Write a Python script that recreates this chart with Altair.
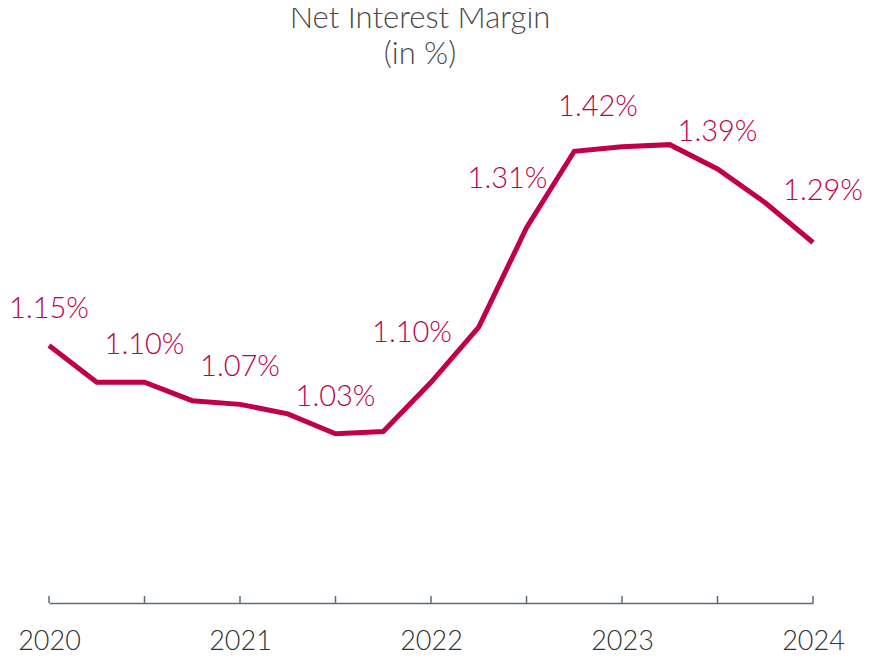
import altair as alt
import pandas as pd

# ---- data ----
periods = [2020.0, 2020.25, 2020.5, 2020.75, 2021.0, 2021.25, 2021.5, 2021.75,
           2022.0, 2022.25, 2022.5, 2022.75, 2023.0, 2023.25, 2023.5, 2023.75, 2024.0]
nim = [1.15, 1.10, 1.10, 1.075, 1.07, 1.057, 1.03, 1.033,
       1.10, 1.175, 1.31, 1.414, 1.42, 1.423, 1.39, 1.344, 1.29]
labelled = [2020.0, 2020.5, 2021.0, 2021.5, 2022.0, 2022.5, 2023.0, 2023.5, 2024.0]
tick_values = [2020.0, 2020.5, 2021.0, 2021.5, 2022.0, 2022.5, 2023.0, 2023.5, 2024.0]
title_lines = ["Net Interest Margin", "(in %)"]

df = pd.DataFrame({"period": periods, "nim": nim})
df["label"] = df["nim"].map(lambda v: f"{v:.2f}%")
lab = df[df["period"].isin(labelled)]
ticks_df = pd.DataFrame({"t": tick_values})

# ---- style ----
RED = "#C0004A"
AXIS = "#5B6B7B"
FONT = "Lato"
W, H = 764, 515

x = alt.X("period:Q",
          scale=alt.Scale(domain=[2020, 2024], nice=False, zero=False),
          axis=alt.Axis(values=tick_values, title=None, grid=False,
                        ticks=False, tickSize=0, domainColor=AXIS, domainWidth=1.5,
                        labelExpr="datum.value % 1 == 0 ? toString(datum.value) : ''",
                        labelFont=FONT, labelFontSize=27, labelFontWeight=300,
                        labelColor="#333333", labelPadding=46, labelBaseline="alphabetic",
                        labelFlush=False, labelOverlap=False))
y = alt.Y("nim:Q", scale=alt.Scale(domain=[0.8, 1.5], nice=False, zero=False), axis=None)

line = alt.Chart(df).mark_line(color=RED, strokeWidth=5).encode(x=x, y=y)

tick_rules = alt.Chart(ticks_df).mark_rule(color=AXIS, strokeWidth=1.5).encode(
    x=alt.X("t:Q", scale=alt.Scale(domain=[2020, 2024], nice=False, zero=False)),
    y=alt.value(H - 7), y2=alt.value(H))

groups = [
    ([2020.0, 2020.5, 2021.0, 2021.5, 2023.5], 0, -37),
    ([2022.0, 2022.5], -19, -49),
    ([2023.0], -24, -40),
    ([2024.0], 10, -52),
]
text_layers = []
for members, dx, dy in groups:
    sub = lab[lab["period"].isin(members)]
    text_layers.append(
        alt.Chart(sub).mark_text(font=FONT, fontSize=29, fontWeight=300, color=RED,
                                 baseline="middle", align="center", dx=dx, dy=dy)
        .encode(x=alt.X("period:Q"), y=alt.Y("nim:Q"), text="label:N"))

chart = alt.layer(tick_rules, line, *text_layers).properties(
    width=W, height=H,
    title=alt.TitleParams(text=title_lines, font=FONT, fontSize=31, fontWeight=300,
                          color="#4a4a4a", anchor="middle", dx=-11, lineHeight=36,
                          offset=17),
    autosize=alt.AutoSizeParams(type="none"),
    padding={"left": 41, "top": 80, "right": 62, "bottom": 48},
).configure(background="white").configure_view(strokeWidth=0, stroke=None)

chart.save("out.html", embed_options={"renderer": "svg", "actions": False})
